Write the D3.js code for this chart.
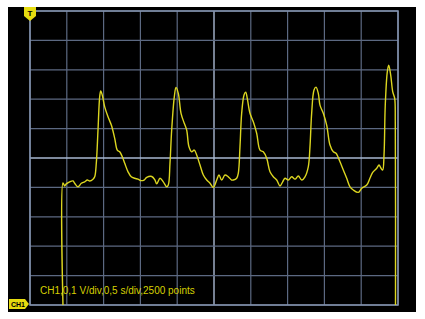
<!DOCTYPE html>
<html>
<head>
<meta charset="utf-8">
<script src="https://cdn.jsdelivr.net/npm/d3@7"></script>
<style>
  body { margin: 0; background: #fff; }
  svg { display: block; }
</style>
</head>
<body>
<div id="scope"></div>
<script>

// Set dimensions and margins for the plot
const width = 425;
const height = 319;
const screen = {left: 8, top: 7, right: 416, bottom: 312};
const margin = {left: 30, right: 27, top: 11, bottom: 14};

// Scope settings
const timeDivs = [0, 0.5, 1, 1.5, 2, 2.5, 3, 3.5, 4, 4.5, 5];
const voltDivs = [-0.5, -0.4, -0.3, -0.2, -0.1, 0, 0.1, 0.2, 0.3, 0.4, 0.5];
const label = "CH1,0,1 V/div,0,5 s/div,2500 points";

// Trace: time (s) and voltage (V)
const times = [0.448, 0.448, 0.471, 0.493, 0.539, 0.584, 0.607, 0.652, 0.697, 0.743,
  0.779, 0.811, 0.856, 0.879, 0.901, 0.924, 0.947, 0.961, 0.982, 1.015,
  1.060, 1.105, 1.151, 1.186, 1.219, 1.254, 1.287, 1.332, 1.376, 1.423,
  1.467, 1.512, 1.549, 1.586, 1.654, 1.698, 1.721, 1.766, 1.811, 1.857,
  1.879, 1.902, 1.925, 1.961, 1.984, 2.015, 2.052, 2.096, 2.129, 2.160,
  2.197, 2.232, 2.265, 2.310, 2.355, 2.401, 2.446, 2.490, 2.537, 2.568,
  2.605, 2.649, 2.694, 2.740, 2.762, 2.808, 2.830, 2.853, 2.876, 2.908,
  2.931, 2.952, 2.989, 3.034, 3.080, 3.125, 3.170, 3.216, 3.261, 3.306,
  3.352, 3.397, 3.433, 3.465, 3.510, 3.556, 3.601, 3.645, 3.692, 3.736,
  3.781, 3.804, 3.827, 3.859, 3.886, 3.917, 3.940, 3.985, 4.031, 4.076,
  4.121, 4.158, 4.212, 4.257, 4.303, 4.348, 4.393, 4.461, 4.507, 4.575,
  4.620, 4.656, 4.711, 4.742, 4.769, 4.792, 4.810, 4.827, 4.855, 4.874,
  4.901, 4.928, 4.955, 4.963, 4.966];
const volts = [-0.5, -0.085, -0.095, -0.088, -0.081, -0.078, -0.086, -0.098, -0.086, -0.081,
  -0.075, -0.078, -0.072, -0.064, -0.017, 0.095, 0.209, 0.228, 0.214, 0.174,
  0.140, 0.112, 0.067, 0.027, 0.021, 0.004, -0.018, -0.047, -0.064, -0.069,
  -0.072, -0.077, -0.075, -0.066, -0.063, -0.075, -0.088, -0.069, -0.081, -0.098,
  -0.092, -0.018, 0.095, 0.209, 0.240, 0.220, 0.152, 0.118, 0.095, 0.038,
  0.021, 0.027, 0.010, -0.024, -0.058, -0.075, -0.086, -0.100, -0.075, -0.058,
  -0.075, -0.058, -0.064, -0.075, -0.075, -0.069, -0.052, 0.038, 0.152, 0.214,
  0.224, 0.203, 0.152, 0.123, 0.084, 0.027, 0.021, -0.001, -0.047, -0.064,
  -0.075, -0.095, -0.081, -0.069, -0.075, -0.064, -0.072, -0.061, -0.075, -0.064,
  -0.030, 0.038, 0.152, 0.231, 0.241, 0.220, 0.180, 0.152, 0.112, 0.044,
  0.021, 0.016, -0.013, -0.041, -0.069, -0.098, -0.109, -0.117, -0.103, -0.092,
  -0.068, -0.049, -0.035, -0.024, -0.035, -0.041, 0.010, 0.180, 0.294, 0.316,
  0.282, 0.226, 0.203, 0.123, -0.5];

const trace = times.map((t, i) => ({t: t, v: volts[i]}));

const svg = d3.select("#scope")
  .append("svg")
  .attr("width", width)
  .attr("height", height)
  .attr("viewBox", [0, 0, width, height]);

// Black scope screen
svg.append("rect")
  .attr("x", screen.left)
  .attr("y", screen.top)
  .attr("width", screen.right - screen.left)
  .attr("height", screen.bottom - screen.top)
  .attr("fill", "#000");

// Scales
const xScale = d3.scaleLinear()
  .domain([0, 5])
  .range([margin.left, width - margin.right]);

const yScale = d3.scaleLinear()
  .domain([-0.5, 0.5])
  .range([height - margin.bottom, margin.top]);

// Grid lines, centre lines a bit brighter
svg.append("g")
  .selectAll("line")
  .data(timeDivs)
  .join("line")
  .attr("x1", d => xScale(d))
  .attr("x2", d => xScale(d))
  .attr("y1", yScale(-0.5))
  .attr("y2", yScale(0.5))
  .attr("stroke", d => d === 2.5 ? "#a9b8d2" : "#5c6982")
  .attr("stroke-width", d => d === 2.5 ? 1.4 : 1.2);

svg.append("g")
  .selectAll("line")
  .data(voltDivs)
  .join("line")
  .attr("x1", xScale(0))
  .attr("x2", xScale(5))
  .attr("y1", d => yScale(d))
  .attr("y2", d => yScale(d))
  .attr("stroke", d => d === 0 ? "#a9b8d2" : "#5c6982")
  .attr("stroke-width", d => d === 0 ? 1.4 : 1.2);

// Border
svg.append("rect")
  .attr("x", xScale(0))
  .attr("y", yScale(0.5))
  .attr("width", xScale(5) - xScale(0))
  .attr("height", yScale(-0.5) - yScale(0.5))
  .attr("fill", "none")
  .attr("stroke", "#8796b2")
  .attr("stroke-width", 1.5);

// Trace
const line = d3.line()
  .x(d => xScale(d.t))
  .y(d => yScale(d.v))
  .curve(d3.curveCatmullRom.alpha(0.5));

svg.append("path")
  .datum(trace)
  .attr("d", line)
  .attr("fill", "none")
  .attr("stroke", "#dcd620")
  .attr("stroke-width", 1.4)
  .attr("stroke-linejoin", "round");

// Settings text
svg.append("text")
  .attr("x", xScale(0) + 10)
  .attr("y", yScale(-0.5) - 11)
  .attr("font-family", "Liberation Sans, Arial, sans-serif")
  .attr("font-size", "10px")
  .attr("fill", "#d6d000")
  .text(label);

// Trigger marker
const tx = xScale(0);
const ty = yScale(0.5);
svg.append("path")
  .attr("d", `M${tx - 6},${ty - 4} L${tx + 6},${ty - 4} L${tx + 6},${ty + 5} L${tx},${ty + 10} L${tx - 6},${ty + 5} Z`)
  .attr("fill", "#e6dc10");
svg.append("text")
  .attr("x", tx)
  .attr("y", ty + 5)
  .attr("text-anchor", "middle")
  .attr("font-family", "Liberation Sans, Arial, sans-serif")
  .attr("font-weight", "bold")
  .attr("font-size", "8px")
  .attr("fill", "#000")
  .text("T");

// Channel marker
const cy = yScale(-0.5) - 1;
svg.append("path")
  .attr("d", `M${screen.left + 1},${cy - 5} L${tx - 5},${cy - 5} L${tx - 1},${cy} L${tx - 5},${cy + 5} L${screen.left + 1},${cy + 5} Z`)
  .attr("fill", "#e6dc10");
svg.append("text")
  .attr("x", screen.left + 3)
  .attr("y", cy + 3)
  .attr("font-family", "Liberation Sans, Arial, sans-serif")
  .attr("font-weight", "bold")
  .attr("font-size", "7px")
  .attr("fill", "#000")
  .text("CH1");

</script>
</body>
</html>
